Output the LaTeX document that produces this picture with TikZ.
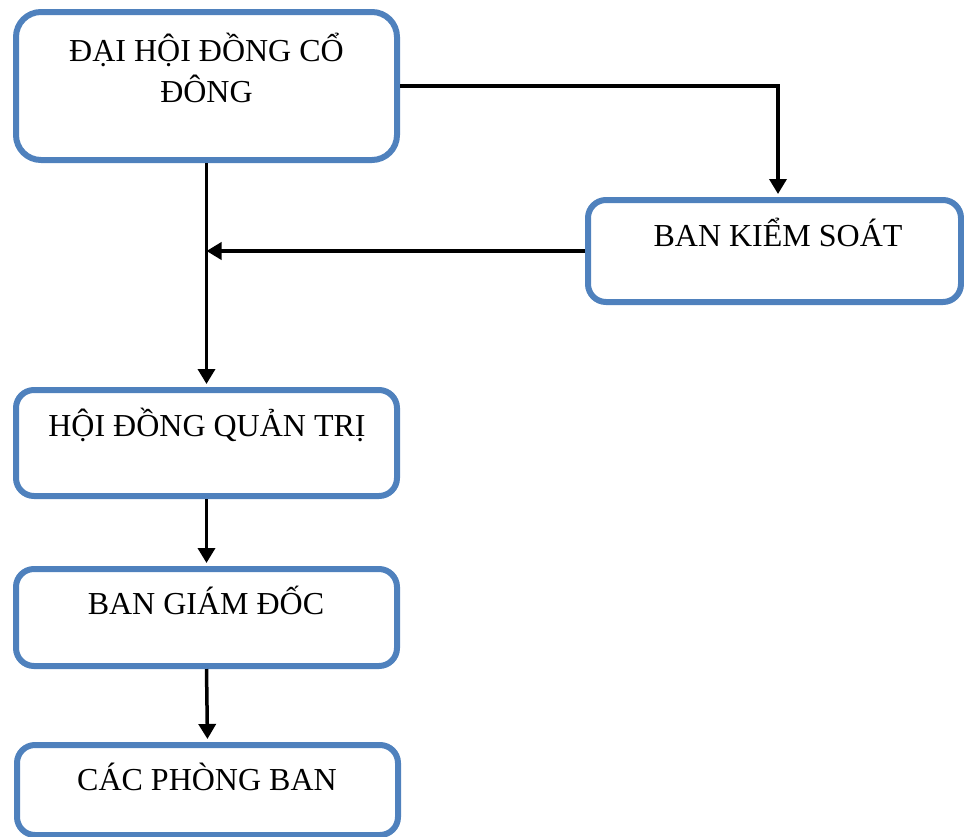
\documentclass[tikz,border=0pt]{standalone}
\usepackage{fontspec}
\setmainfont{Liberation Serif}
\usetikzlibrary{arrows.meta}
\definecolor{boxblue}{RGB}{79,129,189}
\tikzset{
  box/.style={draw=boxblue, line width=6pt, rounded corners=18pt, inner sep=0pt,
    minimum width=381pt},
  lbl/.style={font=\fontsize{32}{41}\selectfont, align=center, anchor=base, inner sep=0pt},
  arr/.style={line width=3.5pt, -{Triangle[length=15pt,width=17pt]}}
}
\begin{document}
\begin{tikzpicture}[x=1pt,y=-1pt]
\useasboundingbox (0,0) rectangle (964,836);

% boxes
\node[box, minimum height=148pt, rounded corners=25pt] (dhcd) at (206.5,86) {};
\node[box, minimum width=373pt, minimum height=102pt] (bks) at (774.5,251) {};
\node[box, minimum height=106pt] (hdqt) at (206.5,443) {};
\node[box, minimum height=97pt] (bgd) at (206.5,617.5) {};
\node[box, minimum height=90pt] (cpb) at (207.5,790) {};

% texts
\node[lbl] (dhcd-t) at (206.5,102) {ĐẠI HỘI ĐỒNG CỔ\\ĐÔNG};
\node[lbl] (bks-t) at (778,246) {BAN KIỂM SOÁT};
\node[lbl] (hdqt-t) at (207,436) {HỘI ĐỒNG QUẢN TRỊ};
\node[lbl] (bgd-t) at (206,614) {BAN GIÁM ĐỐC};
\node[lbl] (cpb-t) at (207,790) {CÁC PHÒNG BAN};

% connectors
\draw[arr, shorten >=3pt] (dhcd.east) -| ([xshift=3.5pt]bks.north);
\draw[arr, shorten >=3pt] (dhcd.south) -- (hdqt.north);
\draw[arr] (bks.west) -- (bks.west -| dhcd.south);
\draw[arr, shorten >=3pt] (hdqt.south) -- (bgd.north);
\draw[arr, shorten >=3pt] (bgd.south) -- (cpb.north);
\end{tikzpicture}
\end{document}
